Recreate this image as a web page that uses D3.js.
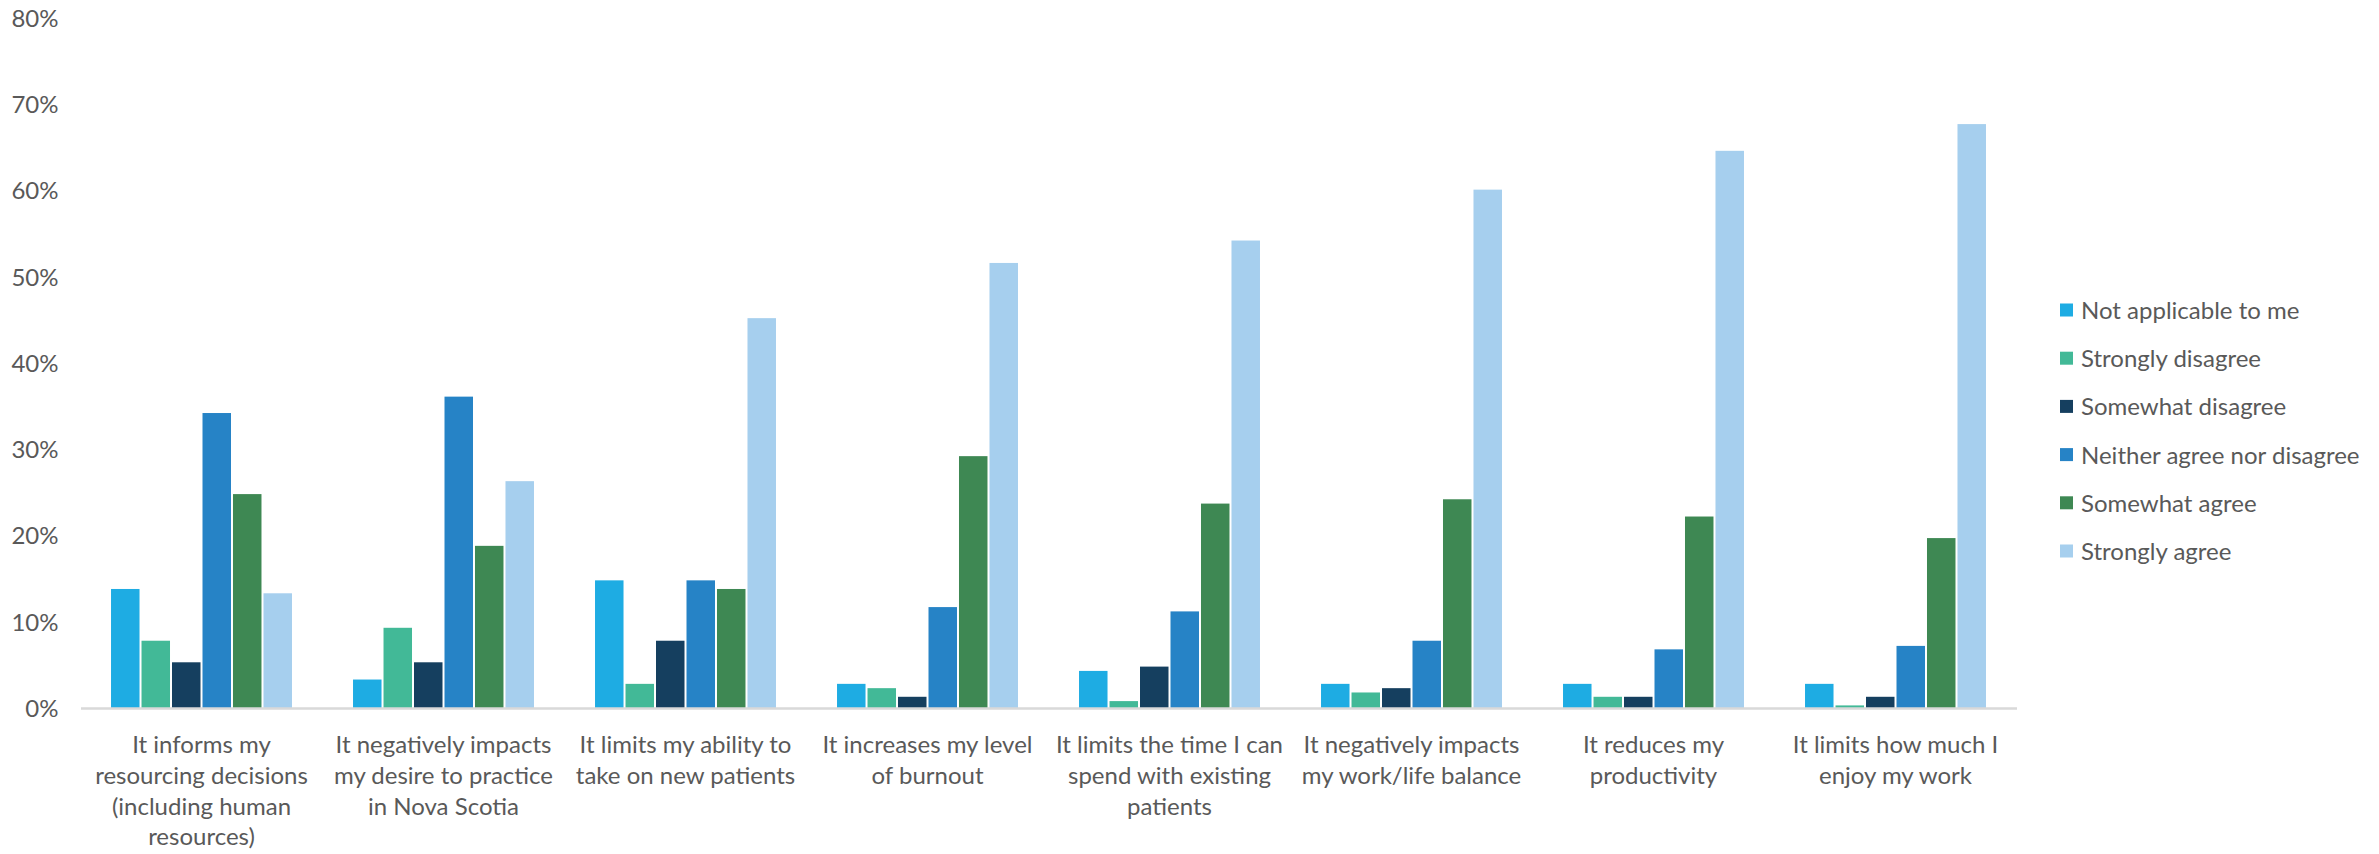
<!DOCTYPE html>
<html>
<head>
<meta charset="utf-8">
<script src="https://cdn.jsdelivr.net/npm/d3@7"></script>
<style>
  body { margin: 0; background: #fff; }
  svg text { font-family: Lato, "Open Sans", sans-serif; fill: #595959; }
</style>
</head>
<body>
<svg id="chart" width="2379" height="854"></svg>
<script>
// categories, wrapped the way the original axis shows them
const categories = [
    ["It informs my", "resourcing decisions", "(including human", "resources)"],
    ["It negatively impacts", "my desire to practice", "in Nova Scotia"],
    ["It limits my ability to", "take on new patients"],
    ["It increases my level", "of burnout"],
    ["It limits the time I can", "spend with existing", "patients"],
    ["It negatively impacts", "my work/life balance"],
    ["It reduces my", "productivity"],
    ["It limits how much I", "enjoy my work"]
];

const seriesNames = [
    "Not applicable to me",
    "Strongly disagree",
    "Somewhat disagree",
    "Neither agree nor disagree",
    "Somewhat agree",
    "Strongly agree"
];

const seriesColors = ["#1eace3", "#42b997", "#153f5f", "#2683c6", "#3e8853", "#a6cfee"];

// one array per series, one value per category (share of respondents)
const notApplicable = [0.138, 0.033, 0.148, 0.028, 0.043, 0.028, 0.028, 0.028];
const stronglyDisagree = [0.078, 0.093, 0.028, 0.023, 0.008, 0.018, 0.013, 0.003];
const somewhatDisagree = [0.053, 0.053, 0.078, 0.013, 0.048, 0.023, 0.013, 0.013];
const neitherAgree = [0.342, 0.361, 0.148, 0.117, 0.112, 0.078, 0.068, 0.072];
const somewhatAgree = [0.248, 0.188, 0.138, 0.292, 0.237, 0.242, 0.222, 0.197];
const stronglyAgree = [0.133, 0.263, 0.452, 0.516, 0.542, 0.601, 0.646, 0.677];

const yTicks = [0, 0.1, 0.2, 0.3, 0.4, 0.5, 0.6, 0.7, 0.8];

const seriesValues = [notApplicable, stronglyDisagree, somewhatDisagree, neitherAgree, somewhatAgree, stronglyAgree];

plotChart();

function plotChart() {
    const svg = d3.select("#chart");

    const plot = {left: 80.5, right: 2016.5, top: 18, bottom: 708};

    const x0 = d3.scaleBand()
                 .domain(d3.range(categories.length))
                 .range([plot.left, plot.right]);

    // Excel-style gap: bars fill ~76% of each category slot
    const groupPad = x0.bandwidth() * 0.122;
    const x1 = d3.scaleBand()
                 .domain(d3.range(seriesNames.length))
                 .range([groupPad, x0.bandwidth() - groupPad]);

    const y = d3.scaleLinear()
                .domain([0, 0.8])
                .range([plot.bottom, plot.top]);

    // y axis labels, no line, no ticks
    const yAxis = svg.append("g")
                     .attr("transform", `translate(${plot.left - 22},0)`)
                     .call(d3.axisLeft(y).tickValues(yTicks).tickFormat(d3.format(".0%")).tickSize(0).tickPadding(0));
    yAxis.select(".domain").remove();
    yAxis.selectAll("text")
         .attr("font-size", 24)
         .attr("dy", "0.35em")
         .style("font-family", "Lato, sans-serif")
         .style("fill", "#595959");

    // bars
    const groups = svg.append("g")
                      .selectAll("g")
                      .data(categories)
                      .enter()
                      .append("g")
                      .attr("transform", (d, i) => `translate(${x0(i)},0)`);

    groups.selectAll("rect")
          .data((d, i) => seriesValues.map((vals, s) => ({s, value: vals[i]})))
          .enter()
          .append("rect")
          .attr("x", d => x1(d.s) + 1)
          .attr("y", d => y(d.value))
          .attr("width", x1.bandwidth() - 2)
          .attr("height", d => y(0) - y(d.value))
          .attr("fill", d => seriesColors[d.s]);

    // baseline
    svg.append("g")
       .attr("transform", `translate(0,${plot.bottom})`)
       .call(d3.axisBottom(x0).tickSize(0).tickFormat(""))
       .select(".domain")
       .attr("stroke", "#d9d9d9")
       .attr("stroke-width", 2.5);

    // category labels
    const lineHeight = 30.8;
    svg.append("g")
       .selectAll("text")
       .data(categories)
       .enter()
       .append("text")
       .attr("text-anchor", "middle")
       .attr("font-size", 24)
       .attr("x", (d, i) => x0(i) + x0.bandwidth() / 2)
       .attr("y", 753)
       .selectAll("tspan")
       .data(d => d)
       .enter()
       .append("tspan")
       .attr("x", function() { return d3.select(this.parentNode).attr("x"); })
       .attr("dy", (d, i) => i === 0 ? 0 : lineHeight)
       .text(d => d);

    // legend
    const legend = svg.append("g")
                      .attr("transform", "translate(2060,310)");
    const item = legend.selectAll("g")
                       .data(seriesNames)
                       .enter()
                       .append("g")
                       .attr("transform", (d, i) => `translate(0,${i * 48.2})`);
    item.append("rect")
        .attr("x", 0)
        .attr("y", -6.5)
        .attr("width", 13)
        .attr("height", 13)
        .attr("fill", (d, i) => seriesColors[i]);
    item.append("text")
        .attr("x", 21)
        .attr("y", 9)
        .attr("font-size", 24)
        .text(d => d);
}
</script>
</body>
</html>
